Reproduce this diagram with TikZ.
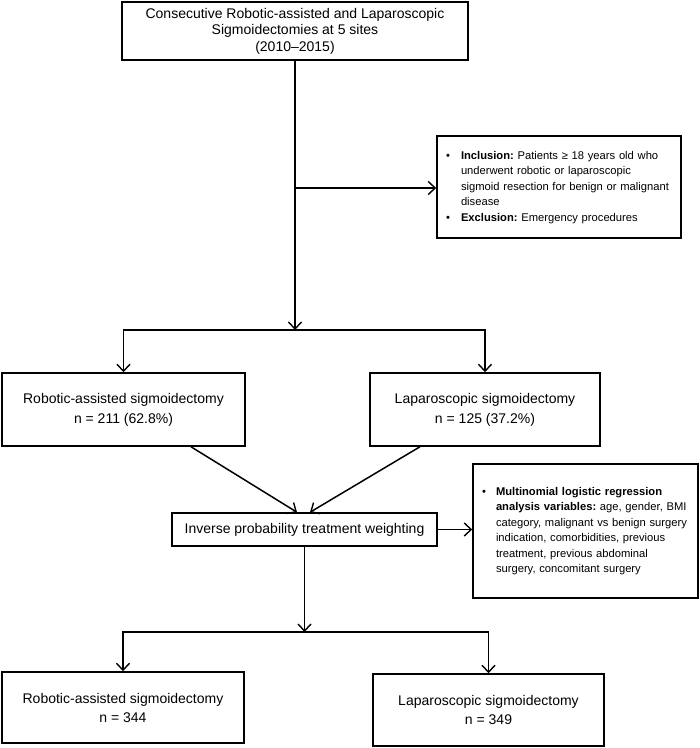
\documentclass[tikz,border=0pt]{standalone}
\usepackage{fontspec}
\setmainfont{Liberation Sans}
\usetikzlibrary{arrows.meta}
\frenchspacing
\tikzset{
  boxstyle/.style={draw=black, line width=1.5pt, fill=white, inner sep=0pt, align=center,
    font=\fontsize{14}{16.5}\selectfont},
  sidebox/.style={draw=black, line width=1.5pt, fill=white, inner xsep=9pt, inner ysep=0pt,
    font=\fontsize{11.2}{15.5}\selectfont\frenchspacing},
  conn/.style={line width=1.5pt, draw=black},
  arr/.style={conn, -{Straight Barb[length=7pt,width=13pt,line width=1.4pt]}}
}
\begin{document}
\begin{tikzpicture}[x=1pt,y=-1pt]
\useasboundingbox (0,0) rectangle (700,748);
\fill[white] (0,0) rectangle (700,748);

\node[boxstyle, minimum width=346pt, minimum height=58pt] (top) at (295,31)
  {Consecutive Robotic-assisted and Laparoscopic\\Sigmoidectomies at 5 sites\\(2010–2015)};

\node[sidebox, minimum width=244pt, minimum height=102pt, text width=226pt] (incl) at (559,187)
  {\noindent\begin{tabular}{@{}p{15pt}@{}l@{}}
  • & \textbf{Inclusion:} Patients ≥ 18 years old who\\
    & underwent robotic or laparoscopic\\
    & sigmoid resection for benign or malignant\\
    & disease\\
  • & \textbf{Exclusion:} Emergency procedures
  \end{tabular}};

\node[boxstyle, minimum width=243pt, minimum height=73pt, font=\fontsize{14}{20}\selectfont] (rob1) at (123.5,409.5)
  {Robotic-assisted sigmoidectomy\\n = 211 (62.8\%)};
\node[boxstyle, minimum width=230pt, minimum height=73pt, font=\fontsize{14}{20}\selectfont] (lap1) at (485,409.5)
  {Laparoscopic sigmoidectomy\\n = 125 (37.2\%)};

\node[boxstyle, minimum width=265pt, minimum height=33pt] (iptw) at (304.5,529.5)
  {Inverse probability treatment weighting};

\node[sidebox, minimum width=225pt, minimum height=134pt, text width=207pt] (multi) at (585.5,531)
  {\noindent\begin{tabular}{@{}p{14pt}@{}l@{}}
  • & \textbf{Multinomial logistic regression}\\
    & \textbf{analysis variables:} age, gender, BMI\\
    & category, malignant vs benign surgery\\
    & indication, comorbidities, previous\\
    & treatment, previous abdominal\\
    & surgery, concomitant surgery
  \end{tabular}};

\node[boxstyle, minimum width=242pt, minimum height=71pt, font=\fontsize{14}{19}\selectfont] (rob2) at (123,707.5)
  {Robotic-assisted sigmoidectomy\\n = 344};
\node[boxstyle, minimum width=231pt, minimum height=72pt, font=\fontsize{14}{19}\selectfont] (lap2) at (488.5,710)
  {Laparoscopic sigmoidectomy\\n = 349};

% junctions
\coordinate (j1) at (295,330);
\coordinate (b1) at (295,188);
\coordinate (j2) at (304.5,632);

\draw[arr] (top.south) -- (j1);
\draw[arr] (b1) -- (incl.west |- b1);
\draw[arr] (j1) -| (rob1.north);
\draw[arr] (j1) -| (lap1.north);

\draw[arr] ([xshift=67.5pt]rob1.south) -- ([xshift=-7.5pt]iptw.north);
\draw[arr] ([xshift=-65pt]lap1.south) -- ([xshift=5.5pt]iptw.north);

\draw[arr] (iptw.east) -- (multi.west |- iptw.east);

\draw[arr] (iptw.south) -- (j2);
\draw[arr] (j2) -| (rob2.north);
\draw[arr] (j2) -| (lap2.north);
\end{tikzpicture}
\end{document}
